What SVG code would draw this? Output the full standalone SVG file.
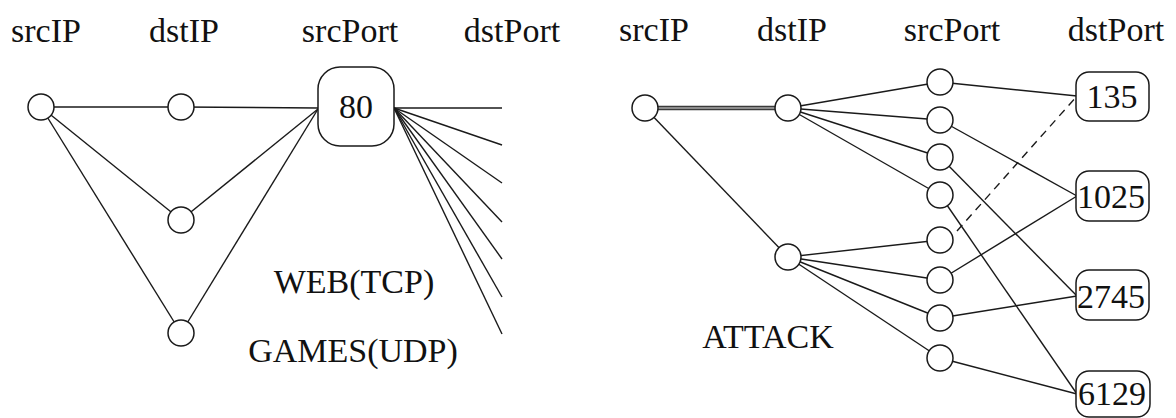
<svg xmlns="http://www.w3.org/2000/svg" width="1176" height="418" viewBox="0 0 1176 418">
  <style>
    text { font-family: "Liberation Serif", "Times New Roman", serif; font-size: 34px; fill: #111; text-anchor: middle; }
    .edge { stroke: #1a1a1a; stroke-width: 1.4; fill: none; }
    .dash { stroke-dasharray: 8 6; }
    .double-outer { stroke: #3a3a3a; stroke-width: 4.4; }
    .double-inner { stroke: #a8a8a8; stroke-width: 1.6; }
    .node { fill: #fff; stroke: #1a1a1a; stroke-width: 1.5; }
    .port { fill: #fff; stroke: #1a1a1a; stroke-width: 1.5; }
  </style>
  <rect width="1176" height="418" fill="#fff"/>

  <!-- column headers -->
  <g id="headers">
    <text x="46" y="42">srcIP</text>
    <text x="184" y="42">dstIP</text>
    <text x="350" y="42">srcPort</text>
    <text x="512" y="42">dstPort</text>
    <text x="654" y="41">srcIP</text>
    <text x="792" y="41">dstIP</text>
    <text x="952" y="41">srcPort</text>
    <text x="1116" y="41">dstPort</text>
  </g>

  <!-- connectors -->
  <g id="connectors">
    <!-- web / games flows -->
    <line class="edge" x1="41" y1="107" x2="181" y2="107"/>
    <line class="edge" x1="181" y1="107" x2="318" y2="108"/>
    <line class="edge" x1="41" y1="107" x2="181" y2="220"/>
    <line class="edge" x1="41" y1="107" x2="181" y2="333"/>
    <line class="edge" x1="181" y1="220" x2="318" y2="109"/>
    <line class="edge" x1="181" y1="333" x2="318" y2="109"/>
    <line class="edge" x1="394" y1="108" x2="502" y2="108"/>
    <line class="edge" x1="394" y1="108" x2="502" y2="145"/>
    <line class="edge" x1="394" y1="108" x2="502" y2="183"/>
    <line class="edge" x1="394" y1="108" x2="502" y2="222"/>
    <line class="edge" x1="394" y1="108" x2="502" y2="259"/>
    <line class="edge" x1="394" y1="108" x2="502" y2="297"/>
    <line class="edge" x1="394" y1="108" x2="502" y2="334"/>

    <!-- attack flows -->
    <line class="edge double-outer" x1="645" y1="108" x2="788" y2="108"/>
    <line class="edge double-inner" x1="645" y1="108" x2="788" y2="108"/>
    <line class="edge" x1="645" y1="108" x2="788" y2="257"/>
    <line class="edge" x1="788" y1="108" x2="940" y2="82"/>
    <line class="edge" x1="788" y1="108" x2="940" y2="120"/>
    <line class="edge" x1="788" y1="108" x2="940" y2="157"/>
    <line class="edge" x1="788" y1="108" x2="940" y2="195"/>
    <line class="edge" x1="788" y1="257" x2="940" y2="240"/>
    <line class="edge" x1="788" y1="257" x2="940" y2="280"/>
    <line class="edge" x1="788" y1="257" x2="940" y2="318"/>
    <line class="edge" x1="788" y1="257" x2="940" y2="358"/>
    <line class="edge" x1="940" y1="82" x2="1077" y2="96"/>
    <line class="edge" x1="940" y1="120" x2="1077" y2="196"/>
    <line class="edge" x1="940" y1="157" x2="1077" y2="296"/>
    <line class="edge" x1="940" y1="195" x2="1077" y2="394"/>
    <line class="edge dash" x1="957" y1="231" x2="1077" y2="96"/>
    <line class="edge" x1="940" y1="280" x2="1077" y2="196"/>
    <line class="edge" x1="940" y1="318" x2="1077" y2="296"/>
    <line class="edge" x1="940" y1="358" x2="1077" y2="394"/>
  </g>

  <!-- left graph nodes -->
  <g id="l-srcip"><circle class="node" cx="41" cy="107" r="13"/></g>
  <g id="l-dstip-1"><circle class="node" cx="181" cy="107" r="13"/></g>
  <g id="l-dstip-2"><circle class="node" cx="181" cy="220" r="13"/></g>
  <g id="l-dstip-3"><circle class="node" cx="181" cy="333" r="13"/></g>
  <g id="l-port-80">
    <rect class="port" x="318" y="67" width="76" height="79" rx="22"/>
    <text x="356" y="118">80</text>
  </g>

  <!-- right graph nodes -->
  <g id="r-srcip"><circle class="node" cx="645" cy="108" r="13"/></g>
  <g id="r-dstip-1"><circle class="node" cx="788" cy="108" r="13"/></g>
  <g id="r-dstip-2"><circle class="node" cx="788" cy="257" r="13"/></g>
  <g id="r-sp-1"><circle class="node" cx="940" cy="82" r="13"/></g>
  <g id="r-sp-2"><circle class="node" cx="940" cy="120" r="13"/></g>
  <g id="r-sp-3"><circle class="node" cx="940" cy="157" r="13"/></g>
  <g id="r-sp-4"><circle class="node" cx="940" cy="195" r="13"/></g>
  <g id="r-sp-5"><circle class="node" cx="940" cy="240" r="13"/></g>
  <g id="r-sp-6"><circle class="node" cx="940" cy="280" r="13"/></g>
  <g id="r-sp-7"><circle class="node" cx="940" cy="318" r="13"/></g>
  <g id="r-sp-8"><circle class="node" cx="940" cy="358" r="13"/></g>
  <g id="r-dp-135">
    <rect class="port" x="1076" y="72" width="73" height="49" rx="13"/>
    <text x="1112" y="108">135</text>
  </g>
  <g id="r-dp-1025">
    <rect class="port" x="1076" y="171" width="73" height="50" rx="13"/>
    <text x="1111" y="208">1025</text>
  </g>
  <g id="r-dp-2745">
    <rect class="port" x="1076" y="270" width="73" height="50" rx="13"/>
    <text x="1111" y="308">2745</text>
  </g>
  <g id="r-dp-6129">
    <rect class="port" x="1076" y="371" width="74" height="46" rx="13"/>
    <text x="1112" y="405">6129</text>
  </g>

  <!-- traffic class labels -->
  <g id="labels">
    <text x="354" y="293">WEB(TCP)</text>
    <text x="353" y="362">GAMES(UDP)</text>
    <text x="768" y="348">ATTACK</text>
  </g>
</svg>
